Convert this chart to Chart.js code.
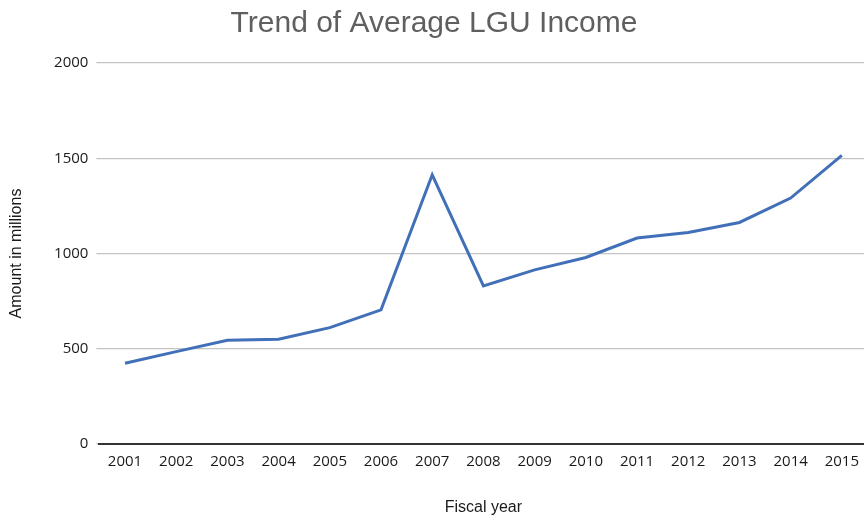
<!DOCTYPE html>
<html>
<head>
<meta charset="utf-8">
<script src="https://cdn.jsdelivr.net/npm/chart.js@4"></script>
<style>
  html, body { margin: 0; padding: 0; background: #fff; overflow: hidden; }
  #wrap { width: 868px; height: 520px; position: relative; }
</style>
</head>
<body>
<div id="wrap"><canvas id="c" width="868" height="520"></canvas></div>
<script>
const years = ["2001","2002","2003","2004","2005","2006","2007","2008","2009","2010","2011","2012","2013","2014","2015"];
const income = [424, 485, 545, 550, 611, 704, 1413, 830, 914, 979, 1081, 1110, 1163, 1291, 1515];
const yTicks = [0, 500, 1000, 1500, 2000];
const chartTitle = "Trend of Average LGU Income";
const xTitle = "Fiscal year";
const yTitle = "Amount in millions";

const FONT = "'Liberation Sans', Arial, sans-serif";
const TICKFONT = "'Open Sans', 'Liberation Sans', sans-serif";

new Chart(document.getElementById('c'), {
  type: 'line',
  data: {
    labels: years,
    datasets: [{
      label: 'Average LGU Income',
      data: income,
      borderColor: '#4170b8',
      backgroundColor: '#4170b8',
      borderWidth: 3,
      pointRadius: 0,
      tension: 0,
      fill: false
    }]
  },
  options: {
    responsive: false,
    animation: false,
    devicePixelRatio: 1,
    layout: { padding: { left: 0, right: 0, top: 0, bottom: 0 } },
    plugins: {
      legend: { display: false },
      tooltip: { enabled: false },
      title: {
        display: true,
        text: chartTitle,
        color: '#5f5f5f',
        font: { family: FONT, size: 30, weight: 'normal' },
        padding: { top: 6, bottom: 21 }
      }
    },
    scales: {
      x: {
        type: 'category',
        offset: true,
        grid: { display: false, drawTicks: false },
        border: { display: true, color: '#333333', width: 2 },
        ticks: {
          color: '#1a1a1a',
          font: { family: TICKFONT, size: 15 },
          padding: 9,
          maxRotation: 0,
          autoSkip: false
        },
        title: {
          display: true,
          text: xTitle,
          color: '#1a1a1a',
          font: { family: FONT, size: 16 },
          padding: { top: 0, bottom: 3 }
        },
        afterFit: (s) => { s.height = 76; }
      },
      y: {
        min: 0,
        max: 2000,
        afterBuildTicks: (s) => { s.ticks = yTicks.map(v => ({ value: v })); },
        grid: { color: '#c4c4c4', lineWidth: 1.3, drawTicks: true, tickLength: 3 },
        border: { display: false },
        ticks: {
          color: '#1a1a1a',
          font: { family: TICKFONT, size: 15 },
          padding: 8,
          callback: (v) => String(v)
        },
        title: {
          display: true,
          text: yTitle,
          color: '#1a1a1a',
          font: { family: FONT, size: 16 },
          padding: { top: 7, bottom: 0 }
        },
        afterFit: (s) => { s.width = 99.4; }
      }
    }
  }
});
</script>
</body>
</html>
